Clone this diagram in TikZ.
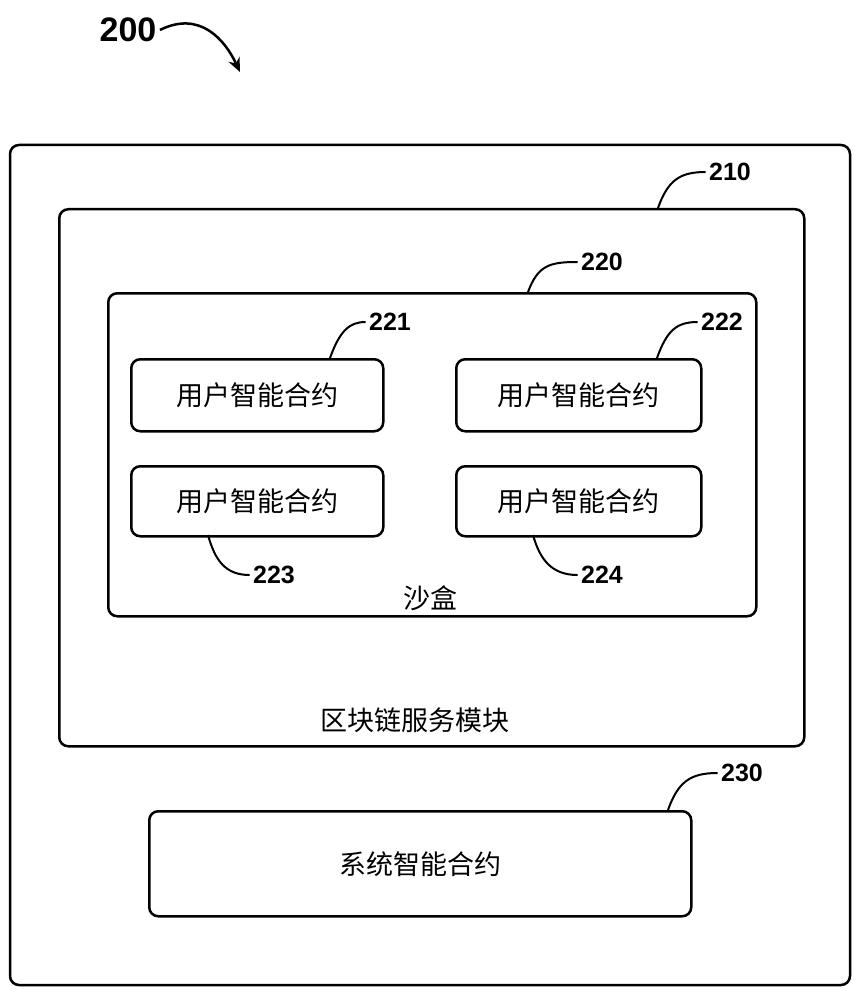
\documentclass[tikz,border=0pt]{standalone}
\usetikzlibrary{arrows.meta}
\usepackage{fontspec}
\setmainfont{Liberation Sans}
\newfontfamily\cjk{Noto Sans CJK SC}[BoldFont={* Bold}]
\begin{document}
\begin{tikzpicture}[x=1pt,y=-1pt,
 box/.style={draw,line width=2.5pt,rounded corners=9pt},
 num/.style={font=\fontsize{25}{27}\selectfont\bfseries},
 zh/.style={font=\cjk\fontsize{27}{30}\selectfont},
 lead/.style={line width=2pt}]
\useasboundingbox (0,0) rectangle (865,1000);
\draw[box] (10,145) rectangle (850,985);
\node[box,minimum width=745pt,minimum height=537pt,anchor=north west] (b210) at (58,208) {};
\node[box,minimum width=648pt,minimum height=323pt,anchor=north west] (b220) at (107,292) {};
\node[box,zh,minimum width=252pt,minimum height=72pt,anchor=north west] (b221) at (130,358) {用户智能合约};
\node[box,zh,minimum width=245pt,minimum height=72pt,anchor=north west] (b222) at (455,358) {用户智能合约};
\node[box,zh,minimum width=252pt,minimum height=70pt,anchor=north west] (b223) at (130,465) {用户智能合约};
\node[box,zh,minimum width=245pt,minimum height=70pt,anchor=north west] (b224) at (455,465) {用户智能合约};
\node[box,zh,minimum width=542pt,minimum height=105pt,anchor=north west] (b230) at (148,810) {系统智能合约};
\node[zh] (t220) at (430,598) {沙盒};
\node[zh] (t210) at (415,720) {区块链服务模块};
\node[num,font=\fontsize{34}{36}\selectfont\bfseries] (l200) at (128,30) {200};
\coordinate (a200) at (240,72);
\draw[line width=2.5pt,-{Stealth[length=14pt,width=12pt]}] (l200.east) .. controls (200,10) and (225,40) .. (a200);
\node[num] (l210) at (730,172) {210};
\node[num] (l220) at (602,262) {220};
\node[num] (l221) at (390,322) {221};
\node[num] (l222) at (722,322) {222};
\node[num] (l223) at (274,575) {223};
\node[num] (l224) at (602,575) {224};
\node[num] (l230) at (742,773) {230};
\draw[lead] (658,208) .. controls (668,180) and (680,172) .. (l210.west);
\draw[lead] (528,292) .. controls (538,265) and (550,262) .. (l220.west);
\draw[lead] (330,358) .. controls (340,330) and (350,322) .. (l221.west);
\draw[lead] (657,358) .. controls (667,330) and (677,322) .. (l222.west);
\draw[lead] (208,535) .. controls (215,560) and (225,575) .. (l223.west);
\draw[lead] (533,535) .. controls (540,560) and (552,575) .. (l224.west);
\draw[lead] (668,810) .. controls (678,782) and (690,773) .. (l230.west);
\end{tikzpicture}
\end{document}
